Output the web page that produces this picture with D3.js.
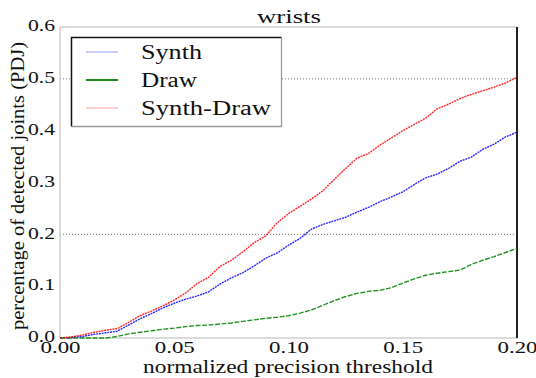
<!DOCTYPE html>
<html>
<head>
<meta charset="utf-8">
<script src="https://cdn.jsdelivr.net/npm/d3@7"></script>
<style>
  html, body { margin: 0; padding: 0; background: #fff; }
  svg { display: block; }
</style>
</head>
<body>
<div id="chart"></div>
<script>
// ---- data ----
const thresholds = [0.000,0.005,0.010,0.015,0.020,0.025,0.030,0.035,0.040,0.045,0.050,0.055,0.060,0.065,0.070,0.075,0.080,0.085,0.090,0.095,0.100,0.105,0.110,0.115,0.120,0.125,0.130,0.135,0.140,0.145,0.150,0.155,0.160,0.165,0.170,0.175,0.180,0.185,0.190,0.195,0.200];
const synth = [0.000,0.001,0.003,0.007,0.010,0.013,0.025,0.037,0.047,0.058,0.067,0.075,0.081,0.089,0.104,0.116,0.126,0.139,0.154,0.164,0.179,0.192,0.210,0.219,0.226,0.233,0.243,0.252,0.263,0.272,0.282,0.296,0.309,0.316,0.327,0.341,0.349,0.364,0.374,0.388,0.397];
const draw = [0.000,0.000,0.000,0.000,0.000,0.003,0.008,0.011,0.014,0.017,0.019,0.022,0.024,0.025,0.027,0.029,0.032,0.035,0.038,0.040,0.043,0.048,0.054,0.063,0.072,0.080,0.086,0.090,0.092,0.097,0.106,0.114,0.121,0.125,0.128,0.131,0.142,0.150,0.157,0.165,0.173];
const synthDraw = [0.000,0.002,0.006,0.011,0.015,0.018,0.030,0.043,0.052,0.062,0.073,0.087,0.105,0.117,0.138,0.150,0.166,0.184,0.197,0.222,0.240,0.254,0.268,0.284,0.306,0.327,0.347,0.356,0.372,0.386,0.400,0.412,0.424,0.442,0.451,0.462,0.470,0.477,0.484,0.492,0.503];
const seriesNames = ["Synth", "Draw", "Synth-Draw"];
const seriesColors = ["#0000ff", "#008000", "#ff0000"];
const legendColors = ["#c8c8ff", "#008000", "#ffc8c8"];
const xTicks = [0.00, 0.05, 0.10, 0.15, 0.20];
const yTicks = [0.0, 0.1, 0.2, 0.3, 0.4, 0.5, 0.6];
const gridValues = [0.2, 0.5];
const title = "wrists";
const xLabel = "normalized precision threshold";
const yLabel = "percentage of detected joints (PDJ)";

const FONT = "'Liberation Serif', serif";
// the reference glyphs are wide: stretch text to its measured widths
const legendWidths = [61, 56, 130];

// ---- layout ----
const W = 536, H = 378;
const m = { left: 60, right: 19, top: 27, bottom: 40 };
const svg = d3.select("#chart").append("svg").attr("width", W).attr("height", H)
  .attr("font-family", FONT);

const x = d3.scaleLinear().domain([0, 0.2]).range([m.left, W - m.right]);
const y = d3.scaleLinear().domain([0, 0.6]).range([H - m.bottom, m.top]);

// grid
svg.append("g").selectAll("line").data(gridValues).join("line")
  .attr("x1", x(0)).attr("x2", x(0.2))
  .attr("y1", d => y(d)).attr("y2", d => y(d))
  .attr("stroke", "#777").attr("stroke-width", 1)
  .attr("stroke-dasharray", "1,2");

// axes
const xAxis = svg.append("g").attr("transform", `translate(0,${y(0)})`)
  .call(d3.axisBottom(x).tickValues(xTicks).tickFormat(d3.format(".2f")).tickSize(0).tickPadding(3));
const yAxis = svg.append("g").attr("transform", `translate(${x(0)},0)`)
  .call(d3.axisLeft(y).tickValues(yTicks).tickFormat(d3.format(".1f")).tickSize(0).tickPadding(5));
[xAxis, yAxis].forEach(a => {
  a.attr("font-family", FONT).attr("font-size", 17);
  a.select(".domain").remove();
  a.selectAll("text").attr("fill", "#111").attr("lengthAdjust", "spacingAndGlyphs");
});
xAxis.selectAll("text").attr("textLength", 40);
yAxis.selectAll("text").attr("textLength", 27).attr("dy", "0.22em");

// spines
svg.append("line").attr("x1", x(0)).attr("x2", x(0)).attr("y1", y(0.6)).attr("y2", y(0)).attr("stroke", "#cfcfcf").attr("stroke-width", 1.5);
svg.append("line").attr("x1", x(0)).attr("x2", x(0.2)).attr("y1", y(0.6)).attr("y2", y(0.6)).attr("stroke", "#cfcfcf").attr("stroke-width", 1.5);
svg.append("line").attr("x1", x(0)).attr("x2", x(0.2)).attr("y1", y(0)).attr("y2", y(0)).attr("stroke", "#cfcfcf").attr("stroke-width", 1.5);
svg.append("line").attr("x1", x(0.2)).attr("x2", x(0.2)).attr("y1", y(0.6)).attr("y2", y(0)).attr("stroke", "#222").attr("stroke-width", 2);

// lines
const seriesData = [synth, draw, synthDraw];
const line = d3.line().x((d, i) => x(thresholds[i])).y(d => y(d));
svg.append("g").selectAll("path").data(seriesData).join("path")
  .attr("d", d => line(d))
  .attr("fill", "none")
  .attr("stroke", (d, i) => seriesColors[i])
  .attr("stroke-width", 1.4)
  .attr("stroke-opacity", 0.85)
  .attr("stroke-dasharray", (d, i) => i === 1 ? "5,1.5" : "2,0.8");

// legend
const lg = svg.append("g");
const bx0 = 71.5, by0 = 37.5, bx1 = 281.5, by1 = 126.5;
lg.append("rect").attr("x", bx0).attr("y", by0).attr("width", bx1 - bx0).attr("height", by1 - by0)
  .attr("fill", "#fff").attr("stroke", "none");
lg.append("path").attr("d", `M${bx0},${by1}V${by0}H${bx1}`).attr("fill", "none").attr("stroke", "#111").attr("stroke-width", 1.5);
lg.append("path").attr("d", `M${bx1},${by0}V${by1}H${bx0}`).attr("fill", "none").attr("stroke", "#9a9a9a").attr("stroke-width", 1.3);
const rows = lg.selectAll("g.row").data(seriesNames).join("g").attr("class", "row")
  .attr("transform", (d, i) => `translate(0,${52 + i * 28})`);
rows.append("line").attr("x1", 86).attr("x2", 118).attr("y1", 0).attr("y2", 0)
  .attr("stroke", (d, i) => legendColors[i]).attr("stroke-width", 1.8);
rows.append("text").attr("x", 141).attr("y", 0).attr("dy", "0.34em")
  .attr("font-size", 20).attr("fill", "#111")
  .attr("textLength", (d, i) => legendWidths[i]).attr("lengthAdjust", "spacingAndGlyphs")
  .text(d => d);

// title and labels
svg.append("text").attr("x", 289).attr("y", 23).attr("text-anchor", "middle")
  .attr("font-size", 19).attr("fill", "#111")
  .attr("textLength", 64).attr("lengthAdjust", "spacingAndGlyphs").text(title);
svg.append("text").attr("x", 288).attr("y", 373).attr("text-anchor", "middle")
  .attr("font-size", 18).attr("fill", "#111")
  .attr("textLength", 290).attr("lengthAdjust", "spacingAndGlyphs").text(xLabel);
svg.append("text").attr("transform", `translate(24,186) rotate(-90)`)
  .attr("text-anchor", "middle").attr("font-size", 18).attr("fill", "#111")
  .attr("textLength", 288).attr("lengthAdjust", "spacingAndGlyphs").text(yLabel);
</script>
</body>
</html>
